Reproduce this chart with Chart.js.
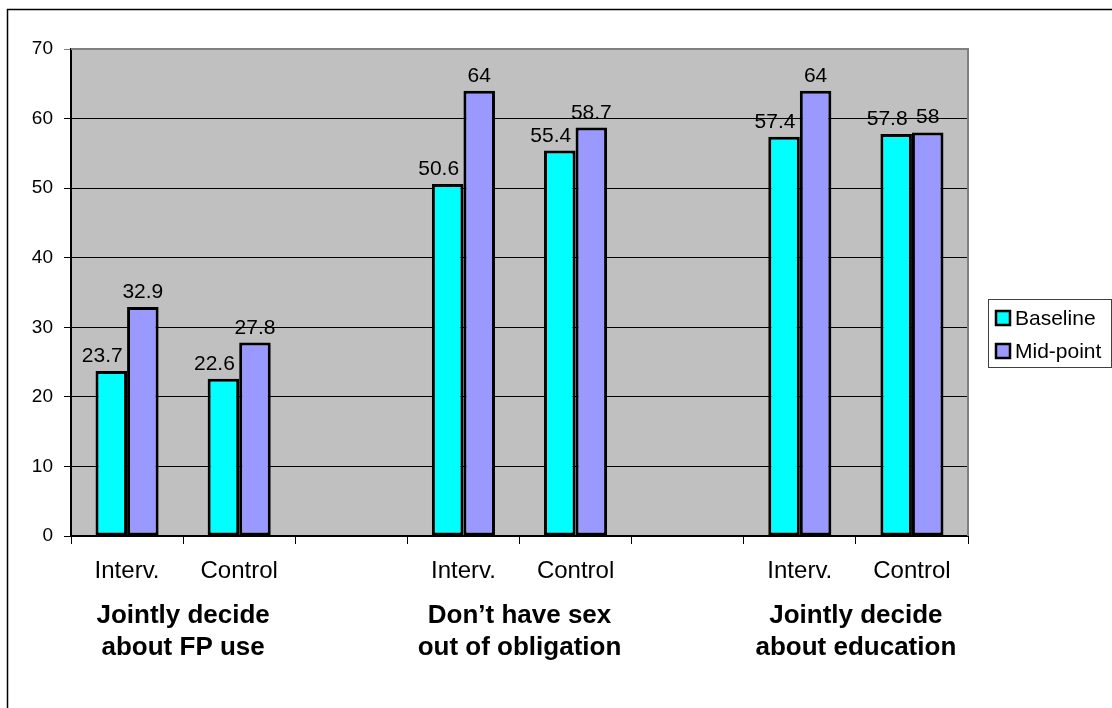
<!DOCTYPE html>
<html lang="en">
<head>
<meta charset="UTF-8">
<title>Baseline vs Mid-point</title>
<script src="https://cdn.jsdelivr.net/npm/chart.js"></script>
<style>
    html, body { margin: 0; padding: 0; background: #ffffff; }
    canvas { display: block; }
</style>
</head>
<body>
<canvas id="myBarChart" width="1112" height="708"></canvas>
<script>
// data
var categories = ['Interv.', 'Control', '', 'Interv.', 'Control', '', 'Interv.', 'Control'];
var baselineValues = [23.7, 22.6, null, 50.6, 55.4, null, 57.4, 57.8];
var midpointValues = [32.9, 27.8, null, 64, 58.7, null, 64, 58];
var seriesNames = ['Baseline', 'Mid-point'];
var groupStarts = [0, 3, 6];
var groupLabels = [
    ['Jointly decide', 'about FP use'],
    ['Don\u2019t have sex', 'out of obligation'],
    ['Jointly decide', 'about education']
];
var yMin = 0, yMax = 70, yStep = 10;

var fontFamily = '"Liberation Sans", Arial, sans-serif';
var seriesColors = ['#00FFFF', '#9999FF'];

// grey plot area + frame of the picture
var backgroundPlugin = {
    id: 'backgroundPlugin',
    beforeDraw: function (chart) {
        var ctx = chart.ctx, a = chart.chartArea;
        ctx.save();
        ctx.fillStyle = '#C0C0C0';
        ctx.fillRect(a.left, a.top, a.right - a.left, a.bottom - a.top);
        ctx.restore();
    },
    afterDraw: function (chart) {
        var ctx = chart.ctx, a = chart.chartArea;
        ctx.save();
        ctx.strokeStyle = '#808080';
        ctx.lineWidth = 2;
        ctx.beginPath();
        ctx.moveTo(a.left, a.top);
        ctx.lineTo(a.right, a.top);
        ctx.lineTo(a.right, a.bottom);
        ctx.stroke();
        // outer frame
        ctx.strokeStyle = '#000000';
        ctx.lineWidth = 1.5;
        ctx.strokeRect(7.5, 9.5, 1300, 900);
        ctx.restore();
    }
};

// value labels above the bars
var valueLabelPlugin = {
    id: 'valueLabelPlugin',
    afterDatasetsDraw: function (chart) {
        var ctx = chart.ctx;
        ctx.save();
        ctx.font = '21px ' + fontFamily;
        ctx.fillStyle = '#000000';
        ctx.textAlign = 'center';
        ctx.textBaseline = 'alphabetic';
        chart.data.datasets.forEach(function (ds, di) {
            var meta = chart.getDatasetMeta(di);
            meta.data.forEach(function (bar, i) {
                var v = ds.data[i];
                if (v === null || v === undefined) return;
                var dx = di === 0 ? -9 : 0;
                ctx.fillText(String(v), bar.x + dx, bar.y - 9);
            });
        });
        ctx.restore();
    }
};

// bold group titles under the category labels
var groupLabelPlugin = {
    id: 'groupLabelPlugin',
    afterDraw: function (chart) {
        var ctx = chart.ctx, x = chart.scales.x, a = chart.chartArea;
        ctx.save();
        ctx.font = 'bold 26px ' + fontFamily;
        ctx.fillStyle = '#000000';
        ctx.textAlign = 'center';
        ctx.textBaseline = 'alphabetic';
        groupStarts.forEach(function (start, g) {
            var cx = (x.getPixelForValue(start) + x.getPixelForValue(start + 1)) / 2;
            groupLabels[g].forEach(function (line, li) {
                ctx.fillText(line, cx, a.bottom + 87 + li * 32);
            });
        });
        ctx.restore();
    }
};

// legend box on the right
var legendBoxPlugin = {
    id: 'legendBoxPlugin',
    afterDraw: function (chart) {
        var ctx = chart.ctx;
        var left = 988, top = 299, right = 1111, bottom = 367;
        ctx.save();
        ctx.fillStyle = '#ffffff';
        ctx.fillRect(left, top, right - left, bottom - top);
        ctx.strokeStyle = '#404040';
        ctx.lineWidth = 1;
        ctx.strokeRect(left + 0.5, top + 0.5, right - left, bottom - top);
        ctx.font = '21px ' + fontFamily;
        ctx.textAlign = 'left';
        ctx.textBaseline = 'middle';
        chart.data.datasets.forEach(function (ds, i) {
            var cy = 318 + i * 33;
            ctx.fillStyle = ds.backgroundColor;
            ctx.fillRect(996, cy - 7, 14, 14);
            ctx.strokeStyle = '#000000';
            ctx.lineWidth = 2.5;
            ctx.strokeRect(996, cy - 7, 14, 14);
            ctx.fillStyle = '#000000';
            ctx.fillText(ds.label, 1015, cy + 1);
        });
        ctx.restore();
    }
};

var ctxBar = document.getElementById('myBarChart').getContext('2d');
var myBarChart = new Chart(ctxBar, {
    type: 'bar',
    data: {
        labels: categories,
        datasets: [{
            label: seriesNames[0],
            data: baselineValues,
            backgroundColor: seriesColors[0],
            borderColor: '#000000',
            borderWidth: 3,
            borderSkipped: false
        }, {
            label: seriesNames[1],
            data: midpointValues,
            backgroundColor: seriesColors[1],
            borderColor: '#000000',
            borderWidth: 3,
            borderSkipped: false
        }]
    },
    options: {
        responsive: false,
        animation: false,
        devicePixelRatio: 1,
        categoryPercentage: 0.5625,
        barPercentage: 1,
        layout: {
            padding: { top: 49, right: 144, left: 0, bottom: 0 }
        },
        plugins: {
            legend: { display: false },
            tooltip: { enabled: false }
        },
        scales: {
            x: {
                offset: true,
                grid: {
                    offset: true,
                    drawOnChartArea: false,
                    color: '#000000',
                    tickLength: 8
                },
                border: { color: '#000000', width: 2 },
                ticks: {
                    color: '#000000',
                    font: { family: fontFamily, size: 24 },
                    padding: 13,
                    maxRotation: 0,
                    autoSkip: false
                },
                afterFit: function (scale) { scale.height = 172; }
            },
            y: {
                min: yMin,
                max: yMax,
                grid: {
                    color: function (c) {
                        return c.tick && c.tick.value === yMax ? '#808080' : '#000000';
                    },
                    tickLength: 7
                },
                border: { color: '#000000', width: 2 },
                ticks: {
                    stepSize: yStep,
                    color: '#000000',
                    font: { family: fontFamily, size: 19 },
                    padding: 11
                },
                afterFit: function (scale) { scale.width = 71; }
            }
        }
    },
    plugins: [backgroundPlugin, valueLabelPlugin, groupLabelPlugin, legendBoxPlugin]
});
</script>
</body>
</html>
